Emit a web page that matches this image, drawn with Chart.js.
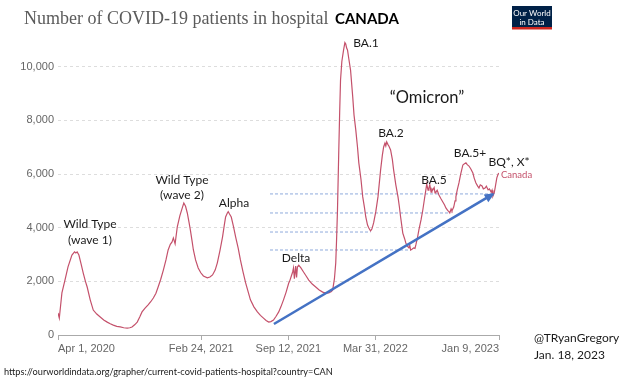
<!DOCTYPE html>
<html>
<head>
<meta charset="utf-8">
<title>Number of COVID-19 patients in hospital - Canada</title>
<script src="https://cdn.jsdelivr.net/npm/chart.js@4.4.1/dist/chart.umd.min.js"></script>
<style>
  html, body { margin: 0; padding: 0; background: #fff; }
  canvas { display: block; }
</style>
</head>
<body>
<canvas id="chart" width="620" height="381"></canvas>
<script>
const dayIndex = [
  0, 3, 6, 9, 16, 23, 32, 38, 41, 44, 48, 53, 58, 63, 67, 74, 81, 89, 97, 105,
  113, 120, 127, 135, 143, 151, 159, 165, 170, 176, 182, 188, 193, 200, 207, 213, 219, 225, 230, 236,
  242, 248, 253, 258, 262, 265, 269, 274, 280, 286, 289, 293, 297, 301, 304, 308, 311, 316, 322, 328,
  334, 343, 349, 355, 361, 366, 372, 378, 382, 385, 389, 391, 394, 398, 403, 408, 414, 419, 425, 431,
  437, 442, 450, 458, 465, 472, 478, 484, 489, 495, 501, 507, 512, 518, 524, 530, 532, 536, 539, 541,
  543, 546, 548, 550, 553, 558, 564, 570, 576, 584, 592, 600, 608, 615, 622, 628, 631, 635, 638, 640,
  642, 645, 647, 649, 652, 656, 659, 661, 663, 665, 668, 672, 677, 680, 684, 688, 691, 696, 700, 704,
  707, 711, 714, 718, 721, 725, 730, 735, 741, 745, 748, 751, 753, 755, 758, 760, 764, 768, 771, 776,
  781, 784, 787, 792, 796, 799, 803, 806, 808, 810, 813, 817, 820, 822, 826, 829, 834, 838, 842, 845,
  847, 850, 852, 854, 857, 859, 861, 864, 866, 868, 871, 875, 879, 884, 888, 891, 895, 898, 900, 903,
  905, 909, 912, 914, 917, 921, 925, 930, 933, 937, 940, 944, 948, 953, 956, 960, 964, 967, 970, 974,
  977, 981, 984, 988, 991, 995, 997, 999, 1002, 1004, 1008, 1011, 1013
];
const patients = [
  820, 630, 1100, 1570, 2050, 2540, 2980, 3100, 3060, 3100, 2980, 2650, 2310, 2000, 1790, 1310, 930, 780, 670, 560,
  480, 420, 370, 320, 300, 270, 260, 270, 300, 380, 480, 680, 860, 1000, 1120, 1240, 1380, 1560, 1790, 2080,
  2420, 2800, 3170, 3380, 3470, 3620, 3400, 4030, 4450, 4770, 4920, 4800, 4550, 4200, 3920, 3500, 3170, 2800, 2500, 2320,
  2200, 2130, 2160, 2240, 2420, 2690, 3150, 3660, 4100, 4400, 4550, 4600, 4510, 4400, 4050, 3660, 3230, 2800, 2350, 1940,
  1600, 1310, 1050, 860, 730, 630, 540, 480, 500, 560, 700, 860, 1050, 1310, 1600, 1940, 2000, 2200, 2350, 2500,
  2100, 2570, 2150, 2540, 2600, 2500, 2350, 2200, 2050, 1900, 1790, 1680, 1600, 1560, 1570, 1620, 1680, 2100, 2690, 3600,
  4660, 6900, 8300, 9510, 10200, 10630, 10900, 10850, 10700, 10630, 10300, 9880, 8880, 8200, 7650, 7000, 6420, 5800, 5150, 4750,
  4400, 4100, 3990, 3880, 3950, 4180, 4600, 5150, 6150, 6700, 7010, 7150, 7050, 7200, 7100, 7050, 6900, 6550, 6150, 5600,
  5150, 4800, 4400, 3800, 3600, 3430, 3300, 3250, 3350, 3170, 3200, 3250, 3230, 3360, 3650, 3920, 4300, 4660, 5100, 5410,
  5630, 5400, 5480, 5600, 5330, 5450, 5410, 5500, 5300, 5330, 5400, 5220, 5100, 4960, 4850, 4740, 4650, 4600, 4550, 4700,
  4630, 4770, 5000, 5150, 5400, 5670, 6000, 6340, 6380, 6420, 6350, 6300, 6200, 6040, 5850, 5670, 5550, 5480, 5600, 5560,
  5450, 5480, 5550, 5410, 5450, 5330, 5400, 5180, 5300, 5480, 5860, 6000, 6040
];

const xTickDays = [0, 329, 529, 729, 1013];
const xTickLabels = ["Apr 1, 2020", "Feb 24, 2021", "Sep 12, 2021", "Mar 31, 2022", "Jan 9, 2023"];
const yTicks = [0, 2000, 4000, 6000, 8000, 10000];

// blue trend arrow (day, patients)
const arrowDays = [496, 999];
const arrowValues = [410, 5250];

// dashed trough levels
const troughLevels = [5260, 4550, 3840, 3170];
const troughEndDays = [999, 900, 718, 810];
const troughStartDay = 487;

const RED = '#c4516b';
const BLUE = '#4472c4';

// hand-written notes on the picture
const notes = [
  { text: 'Wild Type', x: 90, y: 224 },
  { text: '(wave 1)', x: 90, y: 240 },
  { text: 'Wild Type', x: 182, y: 180 },
  { text: '(wave 2)', x: 182, y: 195 },
  { text: 'Alpha', x: 234, y: 203 },
  { text: 'Delta', x: 296, y: 258 },
  { text: 'BA.1', x: 366, y: 43 },
  { text: '\u201cOmicron\u201d', x: 427, y: 98, size: 16.5 },
  { text: 'BA.2', x: 391, y: 133 },
  { text: 'BA.5', x: 434, y: 180 },
  { text: 'BA.5+', x: 470, y: 153 },
  { text: 'BQ*, X*', x: 509, y: 162 }
];

const toPts = (xs, ys) => xs.map((d, i) => ({ x: d, y: ys[i] }));

const datasets = [
  {
    data: toPts(arrowDays, arrowValues),
    borderColor: BLUE, borderWidth: 2.6, pointRadius: 0
  },
  {
    data: toPts(dayIndex, patients),
    borderColor: RED, borderWidth: 1.2, pointRadius: 0, tension: 0
  }
];
troughLevels.forEach((v, i) => {
  datasets.push({
    data: [{ x: troughStartDay, y: v }, { x: troughEndDays[i], y: v }],
    borderColor: '#8faadc', borderWidth: 1, borderDash: [3, 2], pointRadius: 0
  });
});

const arrowHead = {
  id: 'arrowHead',
  afterDatasetsDraw(chart) {
    const pts = chart.getDatasetMeta(0).data;
    const a = pts[0], b = pts[1];
    const ang = Math.atan2(b.y - a.y, b.x - a.x);
    const ctx = chart.ctx;
    ctx.save();
    ctx.translate(b.x, b.y);
    ctx.rotate(ang);
    ctx.fillStyle = BLUE;
    ctx.beginPath();
    ctx.moveTo(2, 0);
    ctx.lineTo(-8, -4.5);
    ctx.lineTo(-8, 4.5);
    ctx.closePath();
    ctx.fill();
    ctx.restore();
  }
};

const overlay = {
  id: 'overlay',
  afterDraw(chart) {
    const ctx = chart.ctx;
    ctx.save();
    ctx.textBaseline = 'alphabetic';
    ctx.textAlign = 'left';
    ctx.fillStyle = '#5b5b5b';
    ctx.font = '18px "Liberation Serif", serif';
    ctx.fillText('Number of COVID-19 patients in hospital', 24, 24);
    ctx.fillStyle = '#000';
    ctx.font = 'bold 15px Lato';
    ctx.fillText('CANADA', 335, 24);

    // OWID logo
    ctx.fillStyle = '#002147';
    ctx.fillRect(512, 6, 40, 22);
    ctx.fillStyle = '#ce261e';
    ctx.fillRect(512, 27, 40, 2.5);
    ctx.fillStyle = '#fff';
    ctx.font = '8px Lato';
    ctx.textAlign = 'center';
    ctx.textBaseline = 'middle';
    ctx.fillText('Our World', 532, 13);
    ctx.fillText('in Data', 532, 22);

    // notes
    ctx.fillStyle = '#1a1a1a';
    notes.forEach(n => {
      ctx.font = (n.size || 12) + 'px Lato';
      ctx.fillText(n.text, n.x, n.y);
    });

    // line label
    ctx.textAlign = 'left';
    ctx.fillStyle = RED;
    ctx.font = '9.5px Lato';
    ctx.fillText('Canada', 501, 175);

    // credits
    ctx.fillStyle = '#1a1a1a';
    ctx.font = '12px Lato';
    ctx.fillText('@TRyanGregory', 534, 338);
    ctx.fillText('Jan. 18, 2023', 534, 355);
    ctx.font = '9.2px Lato';
    ctx.fillText('https://ourworldindata.org/grapher/current-covid-patients-hospital?country=CAN', 4, 372);
    ctx.restore();
  }
};

const tickFont = { family: '"Liberation Sans", Arial, sans-serif', size: 11 };

new Chart(document.getElementById('chart'), {
  type: 'line',
  data: { datasets },
  options: {
    responsive: false,
    animation: false,
    devicePixelRatio: 1,
    layout: { padding: { left: 0, right: 121, top: 40, bottom: 22 } },
    plugins: { legend: { display: false }, tooltip: { enabled: false } },
    scales: {
      x: {
        type: 'linear', min: 0, max: 1013,
        afterBuildTicks: s => { s.ticks = xTickDays.map(v => ({ value: v })); },
        afterFit: s => { s.height = 24; },
        grid: { drawOnChartArea: false, drawTicks: true, tickLength: 5, color: '#aaa' },
        border: { display: true, color: '#aaa', width: 1 },
        ticks: {
          autoSkip: false, maxRotation: 0, align: 'inner', padding: 2,
          color: '#666', font: tickFont,
          callback: v => xTickLabels[xTickDays.indexOf(v)]
        }
      },
      y: {
        min: 0, max: 11000,
        afterBuildTicks: s => { s.ticks = yTicks.map(v => ({ value: v })); },
        afterFit: s => { s.width = 58; },
        grid: { color: '#ddd', drawTicks: false },
        border: { display: false, dash: [3, 3] },
        ticks: { padding: 4, color: '#666', font: tickFont, callback: v => v.toLocaleString('en-US') }
      }
    }
  },
  plugins: [arrowHead, overlay]
});
</script>
</body>
</html>
